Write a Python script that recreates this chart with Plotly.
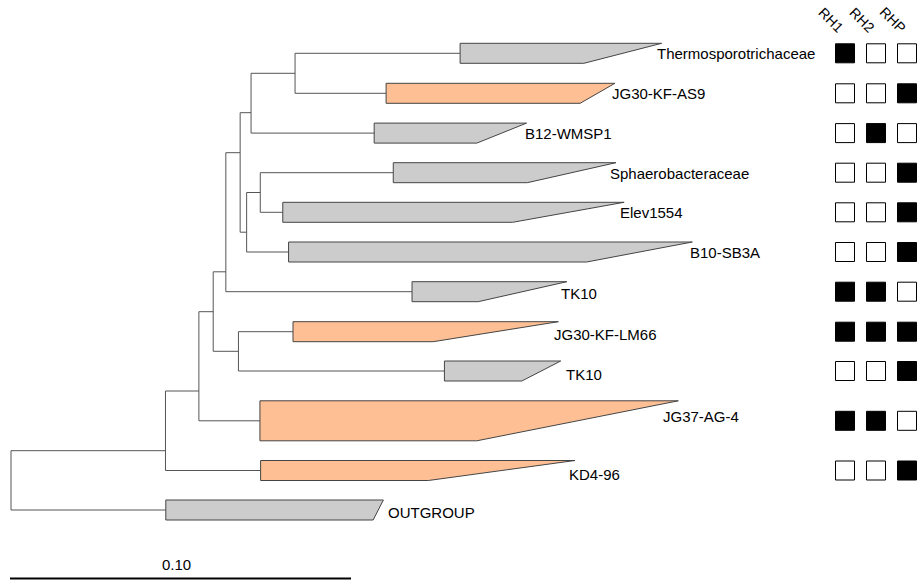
import plotly.graph_objects as go

# ---------------- data ----------------
clade_names = ["Thermosporotrichaceae", "JG30-KF-AS9", "B12-WMSP1", "Sphaerobacteraceae",
               "Elev1554", "B10-SB3A", "TK10", "JG30-KF-LM66", "TK10", "JG37-AG-4",
               "KD4-96", "OUTGROUP"]
clade_group = ["gray", "orange", "gray", "gray", "gray", "gray", "gray", "orange",
               "gray", "orange", "orange", "gray"]
# distance from root to the base of each collapsed clade
clade_base = [0.1317, 0.1100, 0.1065, 0.1121, 0.0797, 0.0814, 0.1176, 0.0827,
              0.1271, 0.0730, 0.0732, 0.0454]
# deepest and shallowest leaf inside each collapsed clade
clade_max = [0.1908, 0.1771, 0.1512, 0.1774, 0.1798, 0.1998, 0.1630, 0.1605,
             0.1612, 0.1957, 0.1654, 0.1092]
clade_min = [0.1680, 0.1669, 0.1366, 0.1514, 0.1471, 0.1688, 0.1370, 0.1238,
             0.1498, 0.1366, 0.1224, 0.1062]

# internal nodes: depth from root and children (ints = clades, str = internal nodes)
node_depth = {"root": 0.0, "J": 0.0453, "I": 0.0551, "G": 0.0593, "F": 0.0630,
              "H": 0.0667, "E": 0.0672, "D": 0.0691, "B": 0.0704, "C": 0.0731,
              "A": 0.0833}
node_children = {"root": ["J", 11], "J": ["I", 10], "I": ["G", 9], "G": ["F", "H"],
                 "H": [7, 8], "F": ["E", 6], "E": ["B", "D"], "D": ["C", 5],
                 "C": [3, 4], "B": ["A", 2], "A": [0, 1]}

# presence matrix
matrix_cols = ["RH1", "RH2", "RHP"]
presence = [[1, 0, 0], [0, 0, 1], [0, 1, 0], [0, 0, 1], [0, 0, 1], [0, 0, 1],
            [1, 1, 0], [1, 1, 1], [0, 0, 1], [1, 1, 0], [0, 0, 1]]

scale_value = 0.10
scale_label = "0.10"

# ---------------- layout (pixels) ----------------
W, H = 917, 581
ROOT_PX, PX_PER_UNIT = 11, 3410
row_y = [53.3, 93.3, 133.1, 172.7, 212.3, 252.0, 291.7, 331.7, 371.0, 420.8, 470.5, 510.0]
row_half = [10, 10, 10, 10, 10, 10, 10, 10, 10, 20, 10, 10]
node_y = {"A": 73.3, "B": 112.7, "C": 192.5, "D": 232.2, "E": 152.7, "F": 271.8,
          "G": 311.7, "H": 351.3, "I": 391.0, "J": 450.7}
label_px = [655, 610, 522.7, 608, 618, 688, 559, 551.7, 564, 660.7, 566.7, 386]
label_y = [53.5, 93.3, 133.3, 173.3, 212.7, 252.7, 293.3, 334, 374, 416.7, 474, 512.3]
fills = {"gray": "#cccccc", "orange": "#ffbf94"}
FONT = "Liberation Sans, Arial, Helvetica"


def d_of(px):
    return (px - ROOT_PX) / PX_PER_UNIT


def ypos(n):
    return row_y[n] if isinstance(n, int) else node_y[n]


def xpos(n):
    return clade_base[n] if isinstance(n, int) else node_depth[n]


fig = go.Figure()

# branches
bx, by = [], []
for p, kids in node_children.items():
    px_ = node_depth[p]
    ys = [ypos(k) for k in kids]
    bx += [px_, px_, None]
    by += [min(ys), max(ys), None]
    for k in kids:
        bx += [px_, xpos(k), None]
        by += [ypos(k), ypos(k), None]
fig.add_trace(go.Scatter(x=bx, y=by, mode="lines", line=dict(color="#555555", width=1),
                         hoverinfo="skip", showlegend=False))

# collapsed clade wedges
for i, name in enumerate(clade_names):
    top = row_y[i] - row_half[i]
    bot = row_y[i] + row_half[i]
    fig.add_trace(go.Scatter(
        x=[clade_base[i], clade_max[i], clade_min[i], clade_base[i], clade_base[i]],
        y=[top, top, bot, bot, top], mode="lines", fill="toself",
        fillcolor=fills[clade_group[i]], line=dict(color="#444444", width=1),
        hoverinfo="skip", showlegend=False))
    fig.add_annotation(x=d_of(label_px[i]), y=label_y[i], text=name, showarrow=False,
                       xanchor="left", yanchor="middle", xref="x", yref="y",
                       font=dict(family=FONT, size=15, color="#000"))

# presence matrix
mx, my, mc = [], [], []
for r, vals in enumerate(presence):
    for c, v in enumerate(vals):
        mx.append(c)
        my.append(row_y[r])
        mc.append("#000000" if v else "#ffffff")
fig.add_trace(go.Scatter(x=mx, y=my, xaxis="x2", yaxis="y", mode="markers",
                         marker=dict(symbol="square", size=19, color=mc,
                                     line=dict(color="#000000", width=1)),
                         hoverinfo="skip", showlegend=False))
for c, name in enumerate(matrix_cols):
    fig.add_annotation(x=c - 0.45, y=20, xref="x2", yref="y", text=name, showarrow=False,
                       textangle=45, font=dict(family=FONT, size=14, color="#000"))

# scale bar
fig.add_shape(type="line", x0=d_of(10), x1=d_of(10) + scale_value, y0=578.5, y1=578.5,
              xref="x", yref="y", line=dict(color="#000000", width=2))
fig.add_annotation(x=d_of(176), y=564, xref="x", yref="y", text=scale_label,
                   showarrow=False, font=dict(family=FONT, size=15, color="#000"))

m_left = 829.5
fig.update_layout(
    width=W, height=H, margin=dict(l=0, r=0, t=0, b=0),
    paper_bgcolor="white", plot_bgcolor="white",
    xaxis=dict(range=[d_of(0), d_of(W)], visible=False, domain=[0, 1]),
    xaxis2=dict(range=[-0.5, (W - m_left) / 31 - 0.5], domain=[m_left / W, 1],
                anchor="y", visible=False),
    yaxis=dict(range=[H, 0], visible=False),
)

fig.write_html("out.html", config={"displayModeBar": False},
               post_script="document.body.style.margin='0';document.body.style.overflow='hidden';")
